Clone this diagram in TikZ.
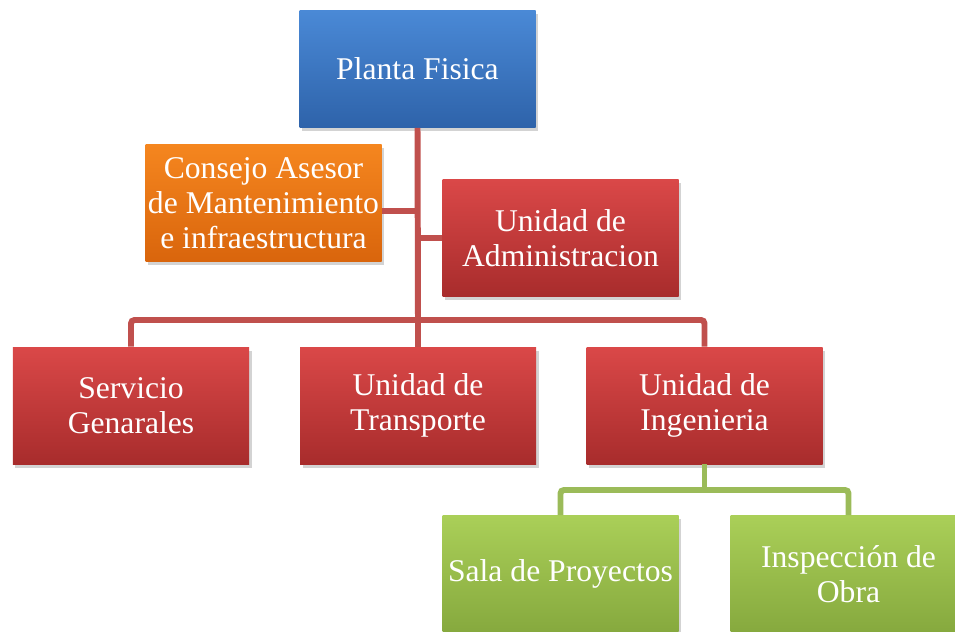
\documentclass[tikz,border=0pt]{standalone}
\usepackage{fontspec}
\setmainfont{Liberation Serif}
\usetikzlibrary{shadows}
\definecolor{bluetop}{HTML}{4A89D6}
\definecolor{bluebot}{HTML}{2E63AA}
\definecolor{redtop}{HTML}{DA4848}
\definecolor{redbot}{HTML}{A82C2C}
\definecolor{orangetop}{HTML}{F5861F}
\definecolor{orangebot}{HTML}{D9650C}
\definecolor{greentop}{HTML}{AACF58}
\definecolor{greenbot}{HTML}{86A93E}
\definecolor{redline}{HTML}{C0504D}
\definecolor{greenline}{HTML}{9BBB59}
\begin{document}
\begin{tikzpicture}[
    box/.style={rectangle, minimum width=4.72cm, minimum height=2.34cm,
        inner sep=1pt, align=center, text=white,
        font=\fontsize{18}{20}\selectfont,
        drop shadow={shadow xshift=0.05cm, shadow yshift=-0.07cm, opacity=0.35}},
    bluebox/.style={box, top color=bluetop, bottom color=bluebot},
    redbox/.style={box, top color=redtop, bottom color=redbot},
    orangebox/.style={box, top color=orangetop, bottom color=orangebot},
    greenbox/.style={box, top color=greentop, bottom color=greenbot},
    redlink/.style={draw=redline, line width=3.4pt, rounded corners=2pt},
    greenlink/.style={draw=greenline, line width=3.4pt, rounded corners=2pt}]
    \useasboundingbox (0, 0) rectangle (19.1, -12.64);

    \node[bluebox] (planta) at (8.35, -1.38) {Planta Fisica};
    \node[orangebox] (consejo) at (5.27, -4.06) {Consejo Asesor\\de Mantenimiento\\e infraestructura};
    \node[redbox] (admin) at (11.21, -4.76) {Unidad de\\Administracion};

    \node[redbox] (servicio) at (2.62, -8.11) {Servicio\\Genarales};
    \node[redbox] (transporte) at (8.36, -8.11) {Unidad de\\Transporte};
    \node[redbox] (ingenieria) at (14.09, -8.11) {Unidad de\\Ingenieria};

    \node[greenbox] (sala) at (11.21, -11.48) {Sala de Proyectos};
    \node[greenbox] (inspeccion) at (16.97, -11.48) {Inspección de\\Obra};

    \coordinate (bus) at (8.36, -6.4);
    \coordinate (gbus) at (14.09, -9.8);

    \draw[redlink] (planta.south) -- (bus);
    \draw[redlink] ([yshift=-0.16cm]consejo.east) -- ([yshift=-0.16cm]consejo.east -| bus);
    \draw[redlink] (admin.west -| bus) -- (admin.west);
    \draw[redlink] (servicio.north) |- (bus) -| (ingenieria.north);
    \draw[redlink] (bus) -- (transporte.north);

    \draw[greenlink] (ingenieria.south) -- (gbus);
    \draw[greenlink] (sala.north) |- (gbus) -| (inspeccion.north);
\end{tikzpicture}
\end{document}
